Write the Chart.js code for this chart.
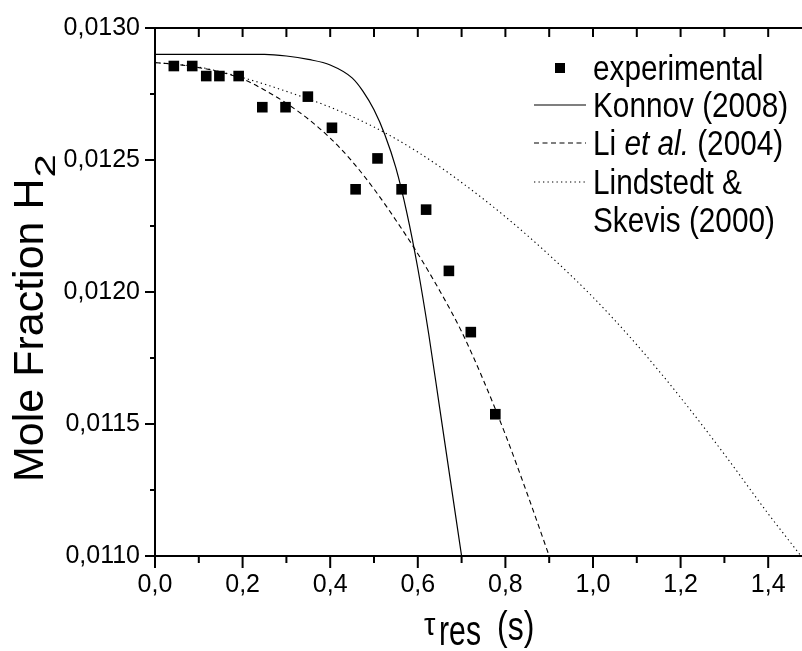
<!DOCTYPE html>
<html>
<head>
<meta charset="utf-8">
<script src="https://cdn.jsdelivr.net/npm/chart.js@4.4.1/dist/chart.umd.min.js"></script>
<style>
  html, body { margin: 0; padding: 0; background: #fff; overflow: hidden; }
  canvas { display: block; }
</style>
</head>
<body>
<!-- el lienzo es un poco mas ancho: el eje derecho (1,5) queda fuera de la ventana como en el original -->
<canvas id="myChart" width="812" height="651"></canvas>
<script>
// datos
const tiempoExp = [0.043, 0.085, 0.117, 0.147, 0.191, 0.245, 0.298, 0.349, 0.404, 0.458, 0.508, 0.563, 0.619, 0.671, 0.721, 0.777];
const h2Exp = [0.012856, 0.012856, 0.012818, 0.012818, 0.012818, 0.0127, 0.0127, 0.01274, 0.012622, 0.012389, 0.012506, 0.012389, 0.012312, 0.01208, 0.011848, 0.011537];

const tiempoKonnov = [0, 0.1, 0.2, 0.25, 0.3, 0.35, 0.4, 0.45, 0.475, 0.5, 0.525, 0.55, 0.575, 0.6, 0.625, 0.65, 0.675, 0.7];
const h2Konnov = [0.0129, 0.0129, 0.0129, 0.0129, 0.012894, 0.012881, 0.01286, 0.012811, 0.01276, 0.01269, 0.012595, 0.01247, 0.0123, 0.01209, 0.01184, 0.01156, 0.01128, 0.011];

const tiempoLi = [0, 0.05, 0.1, 0.15, 0.2, 0.25, 0.3, 0.35, 0.4, 0.45, 0.5, 0.55, 0.6, 0.65, 0.7, 0.75, 0.8, 0.85, 0.9];
const h2Li = [0.012869, 0.012862, 0.01285, 0.012833, 0.012807, 0.012765, 0.012715, 0.012655, 0.012583, 0.012495, 0.01239, 0.012272, 0.012145, 0.012005, 0.01185, 0.011665, 0.01146, 0.011235, 0.011];

const tiempoLindstedt = [0, 0.1, 0.2, 0.3, 0.4, 0.5, 0.6, 0.7, 0.8, 0.9, 1.0, 1.1, 1.2, 1.3, 1.4, 1.475];
const h2Lindstedt = [0.012869, 0.012852, 0.012812, 0.01276, 0.0127, 0.012625, 0.01253, 0.012415, 0.012285, 0.01214, 0.01198, 0.0118, 0.0116, 0.011385, 0.01116, 0.011];

// ticks de los ejes
const ticksX = [0, 0.1, 0.2, 0.3, 0.4, 0.5, 0.6, 0.7, 0.8, 0.9, 1.0, 1.1, 1.2, 1.3, 1.4, 1.5];
const etiquetasX = ["0,0", "", "0,2", "", "0,4", "", "0,6", "", "0,8", "", "1,0", "", "1,2", "", "1,4", ""];
const ticksY = [0.011, 0.01125, 0.0115, 0.01175, 0.012, 0.01225, 0.0125, 0.01275, 0.013];
const etiquetasY = ["0,0110", "", "0,0115", "", "0,0120", "", "0,0125", "", "0,0130"];

const fuente = "'Liberation Sans', Arial, sans-serif";

const unirPuntos = (xs, ys) => xs.map((x, i) => ({ x: x, y: ys[i] }));

// texto estrechado horizontalmente (el original esta deformado)
const textoEstrecho = (ctx, txt, x, y, escala) => {
  ctx.save();
  ctx.translate(x, y);
  ctx.scale(escala, 1);
  ctx.fillText(txt, 0, 0);
  const ancho = ctx.measureText(txt).width * escala;
  ctx.restore();
  return ancho;
};

// marco y marcas de los ejes (mayores largas, menores cortas)
const marcoEjes = {
  id: "marcoEjes",
  afterDraw(chart) {
    const { ctx, chartArea: a, scales } = chart;
    ctx.save();
    ctx.strokeStyle = "#000";
    ctx.lineWidth = 2;
    ctx.strokeRect(a.left, a.top, a.right - a.left, a.bottom - a.top);
    ctx.beginPath();
    ticksX.forEach((v, i) => {
      const px = scales.x.getPixelForValue(v);
      const largo = etiquetasX[i] ? 12 : 7;
      ctx.moveTo(px, a.bottom);
      ctx.lineTo(px, a.bottom + largo);
      ctx.moveTo(px, a.top);
      ctx.lineTo(px, a.top + 9);
    });
    ticksY.forEach((v, i) => {
      const py = scales.y.getPixelForValue(v);
      const largo = etiquetasY[i] ? 10 : 5;
      ctx.moveTo(a.left, py);
      ctx.lineTo(a.left - largo, py);
      ctx.moveTo(a.right, py);
      ctx.lineTo(a.right - 10, py);
    });
    ctx.stroke();
    ctx.restore();
  },
};

// leyenda y titulos de ejes dibujados a mano (cursiva y subindices)
const textosExtra = {
  id: "textosExtra",
  afterDraw(chart) {
    const { ctx } = chart;
    ctx.save();
    ctx.fillStyle = "#000";
    ctx.strokeStyle = "#000";
    ctx.textBaseline = "alphabetic";

    // leyenda
    const xSimbolo = 560;
    const xTexto = 593;
    const filas = [80, 117, 155, 194, 232];
    ctx.fillRect(xSimbolo - 5, filas[0] - 17, 10, 10);
    const lineaLeyenda = (y, dash, ancho) => {
      ctx.beginPath();
      ctx.setLineDash(dash);
      ctx.lineWidth = ancho;
      ctx.moveTo(534, y);
      ctx.lineTo(586, y);
      ctx.stroke();
    };
    lineaLeyenda(filas[1] - 12, [], 1.2);
    lineaLeyenda(filas[2] - 12, [5, 3.5], 1.1);
    lineaLeyenda(filas[3] - 12, [1.3, 3.2], 1.1);
    ctx.setLineDash([]);

    ctx.font = `35px ${fuente}`;
    textoEstrecho(ctx, "experimental", xTexto, filas[0], 0.85);
    textoEstrecho(ctx, "Konnov (2008)", xTexto, filas[1], 0.85);
    let x = xTexto;
    x += textoEstrecho(ctx, "Li ", x, filas[2], 0.85);
    ctx.font = `italic 35px ${fuente}`;
    x += textoEstrecho(ctx, "et al.", x, filas[2], 0.85);
    ctx.font = `35px ${fuente}`;
    textoEstrecho(ctx, " (2004)", x, filas[2], 0.85);
    textoEstrecho(ctx, "Lindstedt &", xTexto, filas[3], 0.85);
    textoEstrecho(ctx, "Skevis (2000)", xTexto, filas[4], 0.85);

    // titulo eje x: tau_res (s)
    ctx.font = `32px ${fuente}`;
    textoEstrecho(ctx, "\u03C4", 424, 635, 0.9);
    ctx.font = `42px ${fuente}`;
    textoEstrecho(ctx, "res", 439, 645, 0.72);
    ctx.font = `40px ${fuente}`;
    textoEstrecho(ctx, "(s)", 497, 640, 0.8);

    // titulo eje y: Mole Fraction H2
    ctx.translate(43, 482);
    ctx.rotate(-Math.PI / 2);
    ctx.font = `43px ${fuente}`;
    ctx.fillText("Mole Fraction H", 0, 0);
    const w = ctx.measureText("Mole Fraction H").width;
    ctx.font = `30px ${fuente}`;
    ctx.translate(w + 1, 12);
    ctx.scale(1.4, 1);
    ctx.fillText("2", 0, 0);
    ctx.restore();
  },
};

const data = {
  datasets: [
    {
      label: "experimental",
      data: unirPuntos(tiempoExp, h2Exp),
      showLine: false,
      pointStyle: "rect",
      pointRadius: 7.5,
      pointBackgroundColor: "#000",
      pointBorderWidth: 0,
    },
    {
      label: "Konnov (2008)",
      data: unirPuntos(tiempoKonnov, h2Konnov),
      showLine: true,
      borderColor: "#000",
      borderWidth: 1.2,
      pointRadius: 0,
      cubicInterpolationMode: "monotone",
    },
    {
      label: "Li et al. (2004)",
      data: unirPuntos(tiempoLi, h2Li),
      showLine: true,
      borderColor: "#000",
      borderWidth: 1.1,
      borderDash: [5, 3.5],
      pointRadius: 0,
      cubicInterpolationMode: "monotone",
    },
    {
      label: "Lindstedt & Skevis (2000)",
      data: unirPuntos(tiempoLindstedt, h2Lindstedt),
      showLine: true,
      borderColor: "#000",
      borderWidth: 1.1,
      borderDash: [1.3, 3.2],
      pointRadius: 0,
      cubicInterpolationMode: "monotone",
    },
  ],
};

const config = {
  type: "scatter",
  data: data,
  options: {
    responsive: false,
    animation: false,
    layout: { autoPadding: false, padding: { top: 28, right: 0, left: 0, bottom: 0 } },
    plugins: {
      legend: { display: false },
      tooltip: { enabled: false },
    },
    scales: {
      x: {
        type: "linear",
        min: 0,
        max: 1.5,
        afterFit: (s) => {
          s.height = 95;
          s.paddingLeft = 0;
          s.paddingRight = 0;
        },
        afterBuildTicks: (s) => { s.ticks = ticksX.map((v) => ({ value: v })); },
        ticks: {
          callback: (v, i) => etiquetasX[i],
          color: "#000",
          font: { family: fuente, size: 25 },
          padding: 2,
          maxRotation: 0,
          autoSkip: false,
        },
        grid: { drawOnChartArea: false, tickLength: 12, color: "rgba(0,0,0,0)" },
        border: { display: false },
      },
      y: {
        type: "linear",
        min: 0.011,
        max: 0.013,
        afterFit: (s) => {
          s.width = 155;
          s.paddingTop = 0;
          s.paddingBottom = 0;
        },
        afterBuildTicks: (s) => { s.ticks = ticksY.map((v) => ({ value: v })); },
        ticks: {
          callback: (v, i) => etiquetasY[i],
          color: "#000",
          font: { family: fuente, size: 25 },
          padding: 5,
          autoSkip: false,
        },
        grid: { drawOnChartArea: false, tickLength: 10, color: "rgba(0,0,0,0)" },
        border: { display: false },
      },
    },
  },
  plugins: [marcoEjes, textosExtra],
};

const myChartElement = document.getElementById("myChart");
var myChart = new Chart(myChartElement, config);
</script>
</body>
</html>
